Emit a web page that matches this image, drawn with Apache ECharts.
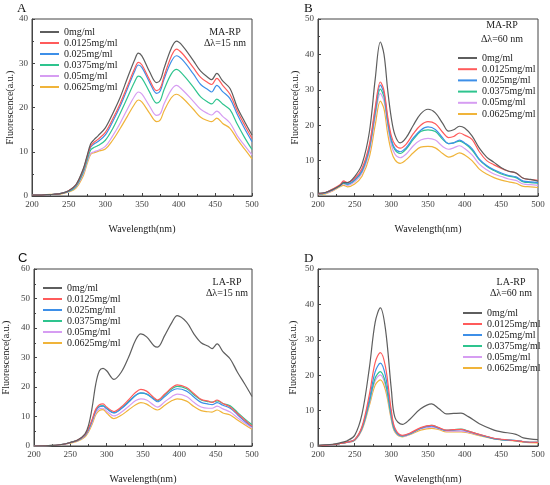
<!DOCTYPE html>
<html>
<head>
<meta charset="utf-8">
<script src="https://cdn.jsdelivr.net/npm/echarts@6/dist/echarts.min.js"></script>
<style>
  html, body { margin: 0; padding: 0; background: #fff; }
  #main { width: 550px; height: 485px; }
</style>
</head>
<body>
<div id="main"></div>
<script>
// concentrations (legend names) and line colours
var concNames = ['0mg/ml', '0.0125mg/ml', '0.025mg/ml', '0.0375mg/ml', '0.05mg/ml', '0.0625mg/ml'];
var lineColors = ['#5e5e5e', '#ff5b5b', '#3d8fe8', '#2ec48e', '#d69df2', '#f0b43a'];
var xTicks = [200, 250, 300, 350, 400, 450, 500];

// panel A: MA-RP, Δλ=15 nm
var wlA = [200,210,220,230,240,250,260,270,275,280,285,290,300,310,320,330,340,345,350,360,370,375,380,390,397,405,420,430,440,445,452,460,470,480,490,500];
var a0    = [0.2,0.2,0.3,0.4,0.6,1.2,2.6,6.2,9.0,11.8,12.8,13.6,15.4,18.6,22.2,26.6,30.8,32.3,31.6,28.2,25.6,26.2,28.8,33.4,35.0,34.0,30.6,28.2,26.8,26.3,27.7,26.0,24.3,20.0,16.8,13.8];
var a0125 = [0.2,0.2,0.3,0.4,0.6,1.2,2.5,6.0,8.8,11.3,12.2,12.8,14.4,17.4,20.8,24.8,28.8,30.2,29.6,26.4,23.8,24.4,27.0,31.6,33.2,32.2,29.0,26.8,25.6,25.2,26.6,25.0,23.0,19.2,16.0,13.0];
var a025  = [0.2,0.2,0.3,0.4,0.6,1.1,2.4,5.8,8.6,11.0,11.8,12.3,13.8,16.8,20.2,24.2,28.2,29.6,29.0,25.8,23.2,23.8,26.4,30.4,31.7,30.8,27.6,25.2,24.0,23.5,25.0,23.6,22.0,18.4,15.2,12.3];
var a0375 = [0.2,0.2,0.3,0.4,0.6,1.0,2.2,5.4,8.0,10.4,11.0,11.4,12.6,15.2,18.6,22.2,25.8,27.1,26.6,23.6,21.0,21.6,24.0,27.6,28.6,27.6,24.6,22.4,21.2,20.8,21.9,20.8,19.5,16.2,13.2,10.5];
var a05   = [0.2,0.2,0.3,0.4,0.6,1.0,2.0,5.0,7.6,9.6,10.0,10.3,11.2,13.6,16.4,19.6,22.6,23.5,23.0,20.4,18.2,18.6,20.8,24.0,25.0,24.0,21.4,19.6,18.6,18.3,19.2,18.0,16.5,13.6,11.4,9.3];
var a0625 = [0.2,0.2,0.3,0.4,0.5,0.9,1.8,4.6,7.2,9.4,9.8,10.1,10.6,12.6,15.2,18.0,20.8,21.7,21.2,18.8,16.8,17.2,19.2,22.2,23.0,22.2,19.6,17.8,17.0,16.8,17.6,16.4,15.3,12.8,10.6,8.4];

// panel B: MA-RP, Δλ=60 nm
var wlB = [200,210,220,230,235,240,250,260,270,278,285,290,295,300,305,312,320,330,340,350,360,370,378,385,393,400,410,420,430,440,450,460,470,480,490,500];
var b0    = [0.8,1.0,1.8,3.0,3.8,3.8,5.5,9.0,18.0,33.0,43.5,40.0,30.0,22.0,17.2,15.0,16.4,20.0,23.2,24.5,23.5,20.5,18.3,18.7,19.7,19.2,17.0,13.5,11.0,9.5,8.0,7.0,6.5,5.0,4.7,4.2];
var b0125 = [0.6,1.0,2.0,3.2,4.3,3.8,5.0,7.8,14.5,25.0,32.2,29.8,22.5,17.0,14.5,13.5,14.6,17.6,20.0,21.0,20.4,18.0,16.5,16.8,17.8,17.2,16.0,12.5,10.0,8.8,7.8,7.0,6.5,5.0,4.6,4.4];
var b025  = [0.6,0.9,1.8,3.0,4.0,3.4,4.6,7.2,13.8,24.2,31.3,29.0,21.6,16.0,13.4,12.5,13.6,16.4,18.6,19.5,18.8,16.4,14.8,15.0,15.8,15.0,13.4,10.4,8.6,7.4,6.5,5.8,5.4,4.2,4.0,3.8];
var b0375 = [0.6,0.9,1.8,2.9,3.6,3.3,4.4,7.0,13.4,23.4,30.2,28.0,21.0,15.6,13.0,12.0,13.2,16.0,18.2,18.7,18.2,16.0,14.8,15.0,15.5,14.8,13.0,10.2,8.4,7.2,6.2,5.6,5.2,4.0,3.8,3.6];
var b05   = [0.5,0.8,1.6,2.8,3.4,3.0,4.0,6.4,12.4,22.2,29.0,26.8,19.8,14.4,11.8,10.8,11.8,14.2,15.8,16.3,15.8,14.0,13.2,13.6,14.2,13.4,11.6,9.0,7.4,6.2,5.5,4.8,4.4,3.4,3.2,3.0];
var b0625 = [0.4,0.6,1.4,2.6,3.0,2.6,3.4,5.6,11.0,20.0,26.8,24.6,17.6,12.6,10.2,9.2,10.2,12.2,13.8,14.0,13.6,12.0,11.0,11.4,12.2,11.6,10.0,7.6,6.2,5.2,4.5,4.0,3.6,2.7,2.6,2.4];

// panel C: LA-RP, Δλ=15 nm
var wlC = [200,220,240,250,260,270,275,280,285,290,295,300,310,320,330,340,347,355,365,370,380,390,397,410,420,430,440,445,452,460,470,480,490,500];
var c0    = [0,0.1,0.6,1.2,2.0,4.0,7.0,13.0,21.0,25.5,26.3,25.5,22.6,25.0,30.0,36.0,38.0,37.0,34.0,33.5,37.5,42.0,44.2,42.0,38.0,35.0,33.8,33.0,34.6,32.0,29.5,25.0,21.0,16.8];
var c0125 = [0,0.1,0.6,1.2,2.0,3.8,6.0,9.0,12.5,14.0,14.3,13.2,11.7,13.2,15.6,18.2,19.2,18.6,16.4,15.6,17.6,19.8,20.7,19.8,17.8,15.8,15.2,14.8,15.6,14.4,13.2,11.0,8.8,6.7];
var c025  = [0,0.1,0.6,1.2,1.9,3.6,5.6,8.6,12.0,13.3,13.5,12.6,11.2,12.6,14.8,17.2,18.0,17.6,15.8,15.0,16.8,18.8,19.4,18.6,16.6,14.8,14.2,14.0,14.7,13.8,12.8,10.6,8.4,6.5];
var c0375 = [0,0.1,0.6,1.2,1.9,3.6,5.6,8.6,12.0,13.5,13.7,12.8,11.3,12.8,15.0,17.2,17.9,17.6,16.0,15.4,17.4,19.4,20.2,19.4,17.4,15.6,15.0,14.9,15.3,14.4,13.6,11.4,9.2,7.2];
var c05   = [0,0.1,0.5,1.1,1.8,3.4,5.2,8.0,11.2,12.6,12.8,11.8,10.2,11.4,13.4,15.4,16.0,15.6,13.8,13.2,15.0,16.8,17.6,16.8,14.8,13.2,12.8,12.8,13.5,12.6,11.5,9.6,7.8,6.1];
var c0625 = [0,0.1,0.5,1.0,1.6,3.0,4.8,7.4,10.6,12.0,12.3,11.2,9.3,10.4,12.2,14.0,14.7,14.2,12.6,12.2,13.8,15.4,16.0,15.2,13.4,12.0,11.6,11.5,12.2,11.2,10.5,8.8,7.2,5.7];

// panel D: LA-RP, Δλ=60 nm
var wlD = [200,220,230,240,250,260,270,278,285,292,300,305,315,325,340,355,365,375,385,395,405,420,440,450,470,480,500];
var d0    = [0.2,0.5,0.9,1.5,3.0,9.0,22.0,35.0,39.0,33.0,16.0,8.0,6.1,7.5,10.5,11.9,10.5,9.1,9.2,9.3,8.3,6.3,4.5,4.0,3.3,2.3,1.8];
var d0125 = [0.1,0.4,0.7,1.1,1.8,5.5,14.5,23.6,26.4,22.4,10.0,5.0,3.0,3.6,5.2,5.8,5.2,4.5,4.6,4.7,4.2,3.3,2.2,1.9,1.5,1.2,1.0];
var d025  = [0.1,0.4,0.7,1.1,1.8,5.2,13.2,21.0,23.4,19.8,9.0,4.6,2.9,3.5,5.0,5.6,5.0,4.4,4.5,4.6,4.1,3.2,2.1,1.8,1.5,1.2,1.0];
var d0375 = [0.1,0.4,0.7,1.1,1.7,5.0,12.4,19.2,21.0,17.8,8.2,4.3,2.8,3.4,5.0,5.8,5.1,4.4,4.6,4.8,4.2,3.2,2.1,1.8,1.5,1.2,1.0];
var d05   = [0.1,0.4,0.7,1.0,1.6,4.8,12.0,18.4,20.1,17.0,7.8,4.1,2.7,3.3,4.8,5.3,4.9,4.2,4.2,4.2,3.9,3.1,2.1,1.8,1.5,1.2,1.0];
var d0625 = [0.1,0.4,0.7,1.0,1.6,4.6,11.4,17.2,18.7,15.8,7.4,3.9,2.6,3.2,4.5,5.0,4.6,4.0,4.0,4.0,3.7,2.9,2.0,1.7,1.4,1.1,0.9];

var panels = [
  { wl: wlA, ys: [a0, a0125, a025, a0375, a05, a0625], yMax: 40, left: 32, top: 19, nameGap: 16,
    legend: { left: 40, top: 26.5, gap: 0 }, note: ['MA-RP', 'Δλ=15 nm'], noteX: 225, noteY: [32, 43],
    letter: 'A', letterX: 17, letterY: 2, letterFont: 'Liberation Serif' },
  { wl: wlB, ys: [b0, b0125, b025, b0375, b05, b0625], yMax: 50, left: 318, top: 19, nameGap: 18,
    legend: { left: 458, top: 52.5, gap: 0.2 }, note: ['MA-RP', 'Δλ=60 nm'], noteX: 502, noteY: [25, 39],
    letter: 'B', letterX: 304, letterY: 2, letterFont: 'Liberation Serif' },
  { wl: wlC, ys: [c0, c0125, c025, c0375, c05, c0625], yMax: 60, left: 32, top: 269, nameGap: 23,
    legend: { left: 43, top: 282.5, gap: 0 }, note: ['LA-RP', 'Δλ=15 nm'], noteX: 227, noteY: [282, 293],
    letter: 'C', letterX: 18, letterY: 252, letterFont: 'Liberation Sans' },
  { wl: wlD, ys: [d0, d0125, d025, d0375, d05, d0625], yMax: 50, left: 318, top: 269, nameGap: 20,
    legend: { left: 463, top: 307.5, gap: 0 }, note: ['LA-RP', 'Δλ=60 nm'], noteX: 511, noteY: [282, 293],
    letter: 'D', letterX: 304, letterY: 252, letterFont: 'Liberation Serif' }
];

var serif = 'Liberation Serif';
var chart = echarts.init(document.getElementById('main'));

var grids = [], xAxes = [], yAxes = [], legends = [], series = [], graphics = [];

panels.forEach(function (p, i) {
  grids.push({
    left: p.left, top: p.top, width: 220, height: 177,
    show: true, borderColor: '#444', borderWidth: 1
  });
  xAxes.push({
    type: 'value', gridIndex: i, min: xTicks[0], max: xTicks[xTicks.length - 1], interval: 50,
    name: 'Wavelength(nm)', nameLocation: 'middle', nameGap: 28,
    nameTextStyle: { fontFamily: serif, fontSize: 10, color: '#222' },
    axisLine: { show: true, lineStyle: { color: '#444' } },
    axisTick: { inside: true, length: 3, lineStyle: { color: '#444' } },
    minorTick: { show: true, splitNumber: 2, length: 2, lineStyle: { color: '#444' } },
    axisLabel: { fontFamily: serif, fontSize: 9, color: '#444', margin: 4 },
    splitLine: { show: false }
  });
  yAxes.push({
    type: 'value', gridIndex: i, min: 0, max: p.yMax, interval: 10,
    name: 'Fluorescence(a.u.)', nameLocation: 'middle', nameGap: p.nameGap,
    nameTextStyle: { fontFamily: serif, fontSize: 10, color: '#222' },
    axisLine: { show: true, lineStyle: { color: '#444' } },
    axisTick: { inside: true, length: 3, lineStyle: { color: '#444' } },
    minorTick: { show: true, splitNumber: 2, length: 2, lineStyle: { color: '#444' } },
    axisLabel: { fontFamily: serif, fontSize: 9, color: '#444', margin: 4 },
    splitLine: { show: false }
  });
  legends.push({
    data: concNames, orient: 'vertical', left: p.legend.left, top: p.legend.top,
    padding: 0, itemGap: p.legend.gap, itemWidth: 19, itemHeight: 2,
    icon: 'rect', selectedMode: false,
    textStyle: { fontFamily: serif, fontSize: 10, color: '#222', lineHeight: 11 }
  });
  p.ys.forEach(function (ys, k) {
    series.push({
      name: concNames[k], type: 'line', xAxisIndex: i, yAxisIndex: i,
      data: p.wl.map(function (w, j) { return [w, ys[j]]; }),
      symbol: 'none', smooth: 0.35, z: 10 - k,
      lineStyle: { width: 1.2, color: lineColors[k] },
      itemStyle: { color: lineColors[k] }
    });
  });
  graphics.push({
    type: 'text', left: p.letterX, top: p.letterY,
    style: { text: p.letter, font: '13px "' + p.letterFont + '"', fill: '#111' }
  });
  p.note.forEach(function (t, k) {
    graphics.push({
      type: 'text', x: p.noteX, y: p.noteY[k],
      style: { text: t, font: '10px "' + serif + '"', fill: '#222', align: 'center', verticalAlign: 'middle' }
    });
  });
});

chart.setOption({
  animation: false,
  backgroundColor: '#fff',
  grid: grids,
  xAxis: xAxes,
  yAxis: yAxes,
  legend: legends,
  series: series,
  graphic: graphics
});
</script>
</body>
</html>
